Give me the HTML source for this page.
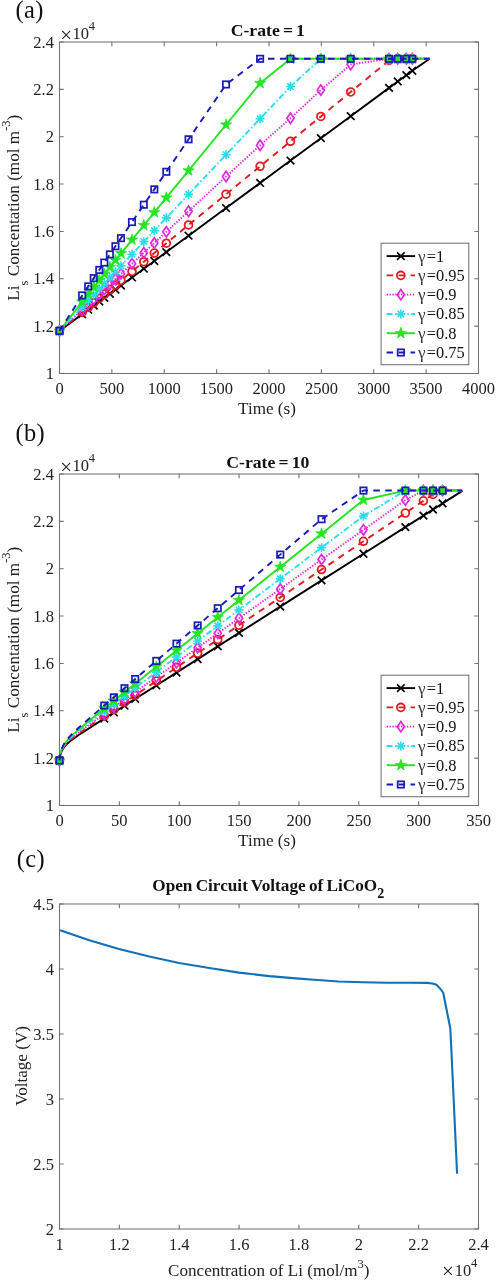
<!DOCTYPE html>
<html><head><meta charset="utf-8"><title>Figure</title>
<style>
html,body{margin:0;padding:0;background:#fff;}
body{width:496px;height:1280px;overflow:hidden;}
svg{display:block;}
text{font-family:"Liberation Serif",serif;fill:#222222;}
.t{font-size:16.5px;}
.l{font-size:16.4px;fill:#111;}
.ti{font-size:17px;font-weight:bold;fill:#111;}
.p{font-size:24.5px;fill:#111;letter-spacing:0.3px;}
.s{font-size:12.5px;}
.gm{font-size:17.2px;fill:#3a3a3a;}
.x{font-size:21px;}
.lb{font-size:17.1px;}
</style></head><body>
<svg width="496" height="1280" viewBox="0 0 496 1280">
<rect width="496" height="1280" fill="#fff"/>
<g>
<rect x="59.5" y="42.0" width="419.0" height="331.5" fill="#fff" stroke="#727272" stroke-width="1.05"/>
<path d="M59.50 373.5v-4.2M59.50 42.0v4.2M111.88 373.5v-4.2M111.88 42.0v4.2M164.25 373.5v-4.2M164.25 42.0v4.2M216.62 373.5v-4.2M216.62 42.0v4.2M269.00 373.5v-4.2M269.00 42.0v4.2M321.38 373.5v-4.2M321.38 42.0v4.2M373.75 373.5v-4.2M373.75 42.0v4.2M426.12 373.5v-4.2M426.12 42.0v4.2M478.50 373.5v-4.2M478.50 42.0v4.2M59.5 373.50h4.2M478.5 373.50h-4.2M59.5 326.14h4.2M478.5 326.14h-4.2M59.5 278.79h4.2M478.5 278.79h-4.2M59.5 231.43h4.2M478.5 231.43h-4.2M59.5 184.07h4.2M478.5 184.07h-4.2M59.5 136.71h4.2M478.5 136.71h-4.2M59.5 89.36h4.2M478.5 89.36h-4.2M59.5 42.00h4.2M478.5 42.00h-4.2" stroke="#727272" stroke-width="1.1" fill="none"/>
<text x="59.50" y="394.30" text-anchor="middle" class="t">0</text>
<text x="111.88" y="394.30" text-anchor="middle" class="t">500</text>
<text x="164.25" y="394.30" text-anchor="middle" class="t">1000</text>
<text x="216.62" y="394.30" text-anchor="middle" class="t">1500</text>
<text x="269.00" y="394.30" text-anchor="middle" class="t">2000</text>
<text x="321.38" y="394.30" text-anchor="middle" class="t">2500</text>
<text x="373.75" y="394.30" text-anchor="middle" class="t">3000</text>
<text x="426.12" y="394.30" text-anchor="middle" class="t">3500</text>
<text x="478.50" y="394.30" text-anchor="middle" class="t">4000</text>
<text x="53.90" y="379.20" text-anchor="end" class="t">1</text>
<text x="53.90" y="331.84" text-anchor="end" class="t">1.2</text>
<text x="53.90" y="284.49" text-anchor="end" class="t">1.4</text>
<text x="53.90" y="237.13" text-anchor="end" class="t">1.6</text>
<text x="53.90" y="189.77" text-anchor="end" class="t">1.8</text>
<text x="53.90" y="142.41" text-anchor="end" class="t">2</text>
<text x="53.90" y="95.06" text-anchor="end" class="t">2.2</text>
<text x="53.90" y="47.70" text-anchor="end" class="t">2.4</text>
<clipPath id="cpa"><rect x="53.5" y="36.0" width="431.0" height="343.5"/></clipPath>
<g clip-path="url(#cpa)">
<path d="M59.50 330.88L82.13 314.19L88.20 309.71L93.75 305.62L99.31 301.53L104.33 297.82L109.88 293.73L115.44 289.63L120.99 285.54L131.99 277.43L143.82 268.70L154.30 260.98L166.34 252.09L188.55 235.72L226.05 208.07L260.10 182.96L290.47 160.57L320.85 138.17L350.70 116.15L389.04 87.88L397.74 81.47L406.33 75.14L412.30 70.74L429.69 58.81" stroke="#000000" stroke-width="1.9" fill="none" stroke-linejoin="round"/>
<path d="M55.70 327.08L63.30 334.68M55.70 334.68L63.30 327.08" stroke="#000000" stroke-width="1.7" fill="none"/>
<path d="M78.33 310.39L85.93 317.99M78.33 317.99L85.93 310.39" stroke="#000000" stroke-width="1.7" fill="none"/>
<path d="M84.40 305.91L92.00 313.51M84.40 313.51L92.00 305.91" stroke="#000000" stroke-width="1.7" fill="none"/>
<path d="M89.95 301.82L97.55 309.42M89.95 309.42L97.55 301.82" stroke="#000000" stroke-width="1.7" fill="none"/>
<path d="M95.51 297.73L103.11 305.33M95.51 305.33L103.11 297.73" stroke="#000000" stroke-width="1.7" fill="none"/>
<path d="M100.53 294.02L108.13 301.62M100.53 301.62L108.13 294.02" stroke="#000000" stroke-width="1.7" fill="none"/>
<path d="M106.08 289.93L113.68 297.53M106.08 297.53L113.68 289.93" stroke="#000000" stroke-width="1.7" fill="none"/>
<path d="M111.64 285.83L119.24 293.43M111.64 293.43L119.24 285.83" stroke="#000000" stroke-width="1.7" fill="none"/>
<path d="M117.19 281.74L124.79 289.34M117.19 289.34L124.79 281.74" stroke="#000000" stroke-width="1.7" fill="none"/>
<path d="M128.19 273.63L135.79 281.23M128.19 281.23L135.79 273.63" stroke="#000000" stroke-width="1.7" fill="none"/>
<path d="M140.02 264.90L147.62 272.50M140.02 272.50L147.62 264.90" stroke="#000000" stroke-width="1.7" fill="none"/>
<path d="M150.50 257.18L158.10 264.78M150.50 264.78L158.10 257.18" stroke="#000000" stroke-width="1.7" fill="none"/>
<path d="M162.54 248.29L170.15 255.89M162.54 255.89L170.15 248.29" stroke="#000000" stroke-width="1.7" fill="none"/>
<path d="M184.75 231.92L192.35 239.52M184.75 239.52L192.35 231.92" stroke="#000000" stroke-width="1.7" fill="none"/>
<path d="M222.25 204.27L229.85 211.87M222.25 211.87L229.85 204.27" stroke="#000000" stroke-width="1.7" fill="none"/>
<path d="M256.30 179.16L263.90 186.76M256.30 186.76L263.90 179.16" stroke="#000000" stroke-width="1.7" fill="none"/>
<path d="M286.67 156.77L294.27 164.37M286.67 164.37L294.27 156.77" stroke="#000000" stroke-width="1.7" fill="none"/>
<path d="M317.05 134.37L324.65 141.97M317.05 141.97L324.65 134.37" stroke="#000000" stroke-width="1.7" fill="none"/>
<path d="M346.90 112.35L354.50 119.95M346.90 119.95L354.50 112.35" stroke="#000000" stroke-width="1.7" fill="none"/>
<path d="M385.24 84.08L392.84 91.68M385.24 91.68L392.84 84.08" stroke="#000000" stroke-width="1.7" fill="none"/>
<path d="M393.94 77.67L401.54 85.27M393.94 85.27L401.54 77.67" stroke="#000000" stroke-width="1.7" fill="none"/>
<path d="M402.53 71.34L410.13 78.94M402.53 78.94L410.13 71.34" stroke="#000000" stroke-width="1.7" fill="none"/>
<path d="M408.50 66.94L416.10 74.54M408.50 74.54L416.10 66.94" stroke="#000000" stroke-width="1.7" fill="none"/>
<path d="M59.50 330.88L82.13 312.31L88.20 307.33L93.75 302.77L99.31 298.22L104.33 294.09L109.88 289.54L115.44 284.98L120.99 280.42L131.99 271.40L143.82 261.69L154.30 253.09L166.34 243.21L188.55 224.98L226.05 194.21L260.10 166.28L290.47 141.35L320.85 116.43L350.70 91.93L389.04 60.47L397.74 58.81L406.33 58.81L412.30 58.81L429.69 58.81" stroke="#e01a1e" stroke-width="1.9" stroke-dasharray="6.5 5.5" fill="none" stroke-linejoin="round"/>
<circle cx="59.50" cy="330.88" r="3.90" stroke="#e01a1e" stroke-width="1.8" fill="none"/>
<circle cx="82.13" cy="312.31" r="3.90" stroke="#e01a1e" stroke-width="1.8" fill="none"/>
<circle cx="88.20" cy="307.33" r="3.90" stroke="#e01a1e" stroke-width="1.8" fill="none"/>
<circle cx="93.75" cy="302.77" r="3.90" stroke="#e01a1e" stroke-width="1.8" fill="none"/>
<circle cx="99.31" cy="298.22" r="3.90" stroke="#e01a1e" stroke-width="1.8" fill="none"/>
<circle cx="104.33" cy="294.09" r="3.90" stroke="#e01a1e" stroke-width="1.8" fill="none"/>
<circle cx="109.88" cy="289.54" r="3.90" stroke="#e01a1e" stroke-width="1.8" fill="none"/>
<circle cx="115.44" cy="284.98" r="3.90" stroke="#e01a1e" stroke-width="1.8" fill="none"/>
<circle cx="120.99" cy="280.42" r="3.90" stroke="#e01a1e" stroke-width="1.8" fill="none"/>
<circle cx="131.99" cy="271.40" r="3.90" stroke="#e01a1e" stroke-width="1.8" fill="none"/>
<circle cx="143.82" cy="261.69" r="3.90" stroke="#e01a1e" stroke-width="1.8" fill="none"/>
<circle cx="154.30" cy="253.09" r="3.90" stroke="#e01a1e" stroke-width="1.8" fill="none"/>
<circle cx="166.34" cy="243.21" r="3.90" stroke="#e01a1e" stroke-width="1.8" fill="none"/>
<circle cx="188.55" cy="224.98" r="3.90" stroke="#e01a1e" stroke-width="1.8" fill="none"/>
<circle cx="226.05" cy="194.21" r="3.90" stroke="#e01a1e" stroke-width="1.8" fill="none"/>
<circle cx="260.10" cy="166.28" r="3.90" stroke="#e01a1e" stroke-width="1.8" fill="none"/>
<circle cx="290.47" cy="141.35" r="3.90" stroke="#e01a1e" stroke-width="1.8" fill="none"/>
<circle cx="320.85" cy="116.43" r="3.90" stroke="#e01a1e" stroke-width="1.8" fill="none"/>
<circle cx="350.70" cy="91.93" r="3.90" stroke="#e01a1e" stroke-width="1.8" fill="none"/>
<circle cx="389.04" cy="60.47" r="3.90" stroke="#e01a1e" stroke-width="1.8" fill="none"/>
<circle cx="397.74" cy="58.81" r="3.90" stroke="#e01a1e" stroke-width="1.8" fill="none"/>
<circle cx="406.33" cy="58.81" r="3.90" stroke="#e01a1e" stroke-width="1.8" fill="none"/>
<circle cx="412.30" cy="58.81" r="3.90" stroke="#e01a1e" stroke-width="1.8" fill="none"/>
<path d="M59.50 330.88L82.13 309.91L88.20 304.28L93.75 299.13L99.31 293.99L104.33 289.33L109.88 284.18L115.44 279.04L120.99 273.89L131.99 263.70L143.82 252.73L154.30 243.02L166.34 231.85L188.55 211.27L226.05 176.52L260.10 145.24L290.47 118.25L320.85 90.07L350.70 64.49L389.04 58.81L397.74 58.81L406.33 58.81L412.30 58.81L429.69 58.81" stroke="#e426e4" stroke-width="1.9" stroke-dasharray="1.4 1.5" fill="none" stroke-linejoin="round"/>
<path d="M59.50 325.68L63.10 330.88L59.50 336.08L55.90 330.88Z" stroke="#e426e4" stroke-width="1.7" fill="none"/>
<path d="M82.13 304.71L85.73 309.91L82.13 315.11L78.53 309.91Z" stroke="#e426e4" stroke-width="1.7" fill="none"/>
<path d="M88.20 299.08L91.80 304.28L88.20 309.48L84.60 304.28Z" stroke="#e426e4" stroke-width="1.7" fill="none"/>
<path d="M93.75 293.93L97.35 299.13L93.75 304.33L90.15 299.13Z" stroke="#e426e4" stroke-width="1.7" fill="none"/>
<path d="M99.31 288.79L102.91 293.99L99.31 299.19L95.71 293.99Z" stroke="#e426e4" stroke-width="1.7" fill="none"/>
<path d="M104.33 284.13L107.93 289.33L104.33 294.53L100.73 289.33Z" stroke="#e426e4" stroke-width="1.7" fill="none"/>
<path d="M109.88 278.98L113.48 284.18L109.88 289.38L106.28 284.18Z" stroke="#e426e4" stroke-width="1.7" fill="none"/>
<path d="M115.44 273.84L119.04 279.04L115.44 284.24L111.84 279.04Z" stroke="#e426e4" stroke-width="1.7" fill="none"/>
<path d="M120.99 268.69L124.59 273.89L120.99 279.09L117.39 273.89Z" stroke="#e426e4" stroke-width="1.7" fill="none"/>
<path d="M131.99 258.50L135.59 263.70L131.99 268.90L128.39 263.70Z" stroke="#e426e4" stroke-width="1.7" fill="none"/>
<path d="M143.82 247.53L147.42 252.73L143.82 257.93L140.22 252.73Z" stroke="#e426e4" stroke-width="1.7" fill="none"/>
<path d="M154.30 237.82L157.90 243.02L154.30 248.22L150.70 243.02Z" stroke="#e426e4" stroke-width="1.7" fill="none"/>
<path d="M166.34 226.65L169.94 231.85L166.34 237.05L162.75 231.85Z" stroke="#e426e4" stroke-width="1.7" fill="none"/>
<path d="M188.55 206.07L192.15 211.27L188.55 216.47L184.95 211.27Z" stroke="#e426e4" stroke-width="1.7" fill="none"/>
<path d="M226.05 171.32L229.65 176.52L226.05 181.72L222.45 176.52Z" stroke="#e426e4" stroke-width="1.7" fill="none"/>
<path d="M260.10 140.04L263.70 145.24L260.10 150.44L256.50 145.24Z" stroke="#e426e4" stroke-width="1.7" fill="none"/>
<path d="M290.47 113.05L294.07 118.25L290.47 123.45L286.87 118.25Z" stroke="#e426e4" stroke-width="1.7" fill="none"/>
<path d="M320.85 84.87L324.45 90.07L320.85 95.27L317.25 90.07Z" stroke="#e426e4" stroke-width="1.7" fill="none"/>
<path d="M350.70 59.29L354.31 64.49L350.70 69.69L347.10 64.49Z" stroke="#e426e4" stroke-width="1.7" fill="none"/>
<path d="M389.04 53.61L392.64 58.81L389.04 64.01L385.44 58.81Z" stroke="#e426e4" stroke-width="1.7" fill="none"/>
<path d="M397.74 53.61L401.34 58.81L397.74 64.01L394.14 58.81Z" stroke="#e426e4" stroke-width="1.7" fill="none"/>
<path d="M406.33 53.61L409.93 58.81L406.33 64.01L402.73 58.81Z" stroke="#e426e4" stroke-width="1.7" fill="none"/>
<path d="M412.30 53.61L415.90 58.81L412.30 64.01L408.70 58.81Z" stroke="#e426e4" stroke-width="1.7" fill="none"/>
<path d="M59.50 330.88L82.13 306.94L88.20 300.52L93.75 294.64L99.31 288.77L104.33 283.45L109.88 277.58L115.44 271.70L120.99 265.83L131.99 254.19L143.82 241.67L154.30 230.59L166.34 217.85L188.55 194.35L226.05 154.68L260.10 118.67L290.47 86.53L320.85 58.81L350.70 58.81L389.04 58.81L397.74 58.81L406.33 58.81L412.30 58.81L429.69 58.81" stroke="#2adcec" stroke-width="1.9" stroke-dasharray="6 2.4 1.5 2.4" fill="none" stroke-linejoin="round"/>
<path d="M55.00 330.88L64.00 330.88M59.50 326.38L59.50 335.38M56.32 327.70L62.68 334.06M56.32 334.06L62.68 327.70" stroke="#2adcec" stroke-width="1.6" fill="none"/>
<path d="M77.63 306.94L86.63 306.94M82.13 302.44L82.13 311.44M78.94 303.76L85.31 310.12M78.94 310.12L85.31 303.76" stroke="#2adcec" stroke-width="1.6" fill="none"/>
<path d="M83.70 300.52L92.70 300.52M88.20 296.02L88.20 305.02M85.02 297.33L91.38 303.70M85.02 303.70L91.38 297.33" stroke="#2adcec" stroke-width="1.6" fill="none"/>
<path d="M89.25 294.64L98.25 294.64M93.75 290.14L93.75 299.14M90.57 291.46L96.94 297.82M90.57 297.82L96.94 291.46" stroke="#2adcec" stroke-width="1.6" fill="none"/>
<path d="M94.81 288.77L103.81 288.77M99.31 284.27L99.31 293.27M96.12 285.59L102.49 291.95M96.12 291.95L102.49 285.59" stroke="#2adcec" stroke-width="1.6" fill="none"/>
<path d="M99.83 283.45L108.83 283.45M104.33 278.95L104.33 287.95M101.15 280.27L107.51 286.63M101.15 286.63L107.51 280.27" stroke="#2adcec" stroke-width="1.6" fill="none"/>
<path d="M105.38 277.58L114.38 277.58M109.88 273.08L109.88 282.08M106.70 274.39L113.07 280.76M106.70 280.76L113.07 274.39" stroke="#2adcec" stroke-width="1.6" fill="none"/>
<path d="M110.94 271.70L119.94 271.70M115.44 267.20L115.44 276.20M112.25 268.52L118.62 274.88M112.25 274.88L118.62 268.52" stroke="#2adcec" stroke-width="1.6" fill="none"/>
<path d="M116.49 265.83L125.49 265.83M120.99 261.33L120.99 270.33M117.81 262.65L124.17 269.01M117.81 269.01L124.17 262.65" stroke="#2adcec" stroke-width="1.6" fill="none"/>
<path d="M127.49 254.19L136.49 254.19M131.99 249.69L131.99 258.69M128.81 251.01L135.17 257.38M128.81 257.38L135.17 251.01" stroke="#2adcec" stroke-width="1.6" fill="none"/>
<path d="M139.32 241.67L148.32 241.67M143.82 237.17L143.82 246.17M140.64 238.49L147.01 244.85M140.64 244.85L147.01 238.49" stroke="#2adcec" stroke-width="1.6" fill="none"/>
<path d="M149.80 230.59L158.80 230.59M154.30 226.09L154.30 235.09M151.12 227.41L157.48 233.77M151.12 233.77L157.48 227.41" stroke="#2adcec" stroke-width="1.6" fill="none"/>
<path d="M161.84 217.85L170.84 217.85M166.34 213.35L166.34 222.35M163.16 214.66L169.53 221.03M163.16 221.03L169.53 214.66" stroke="#2adcec" stroke-width="1.6" fill="none"/>
<path d="M184.05 194.35L193.05 194.35M188.55 189.85L188.55 198.85M185.37 191.17L191.73 197.54M185.37 197.54L191.73 191.17" stroke="#2adcec" stroke-width="1.6" fill="none"/>
<path d="M221.55 154.68L230.55 154.68M226.05 150.18L226.05 159.18M222.87 151.50L229.23 157.86M222.87 157.86L229.23 151.50" stroke="#2adcec" stroke-width="1.6" fill="none"/>
<path d="M255.60 118.67L264.60 118.67M260.10 114.17L260.10 123.17M256.91 115.48L263.28 121.85M256.91 121.85L263.28 115.48" stroke="#2adcec" stroke-width="1.6" fill="none"/>
<path d="M285.97 86.53L294.97 86.53M290.47 82.03L290.47 91.03M287.29 83.35L293.66 89.71M287.29 89.71L293.66 83.35" stroke="#2adcec" stroke-width="1.6" fill="none"/>
<path d="M316.35 58.81L325.35 58.81M320.85 54.31L320.85 63.31M317.67 55.63L324.03 61.99M317.67 61.99L324.03 55.63" stroke="#2adcec" stroke-width="1.6" fill="none"/>
<path d="M346.20 58.81L355.20 58.81M350.70 54.31L350.70 63.31M347.52 55.63L353.89 61.99M347.52 61.99L353.89 55.63" stroke="#2adcec" stroke-width="1.6" fill="none"/>
<path d="M384.54 58.81L393.54 58.81M389.04 54.31L389.04 63.31M385.86 55.63L392.23 61.99M385.86 61.99L392.23 55.63" stroke="#2adcec" stroke-width="1.6" fill="none"/>
<path d="M393.24 58.81L402.24 58.81M397.74 54.31L397.74 63.31M394.56 55.63L400.92 61.99M394.56 61.99L400.92 55.63" stroke="#2adcec" stroke-width="1.6" fill="none"/>
<path d="M401.83 58.81L410.83 58.81M406.33 54.31L406.33 63.31M403.15 55.63L409.51 61.99M403.15 61.99L409.51 55.63" stroke="#2adcec" stroke-width="1.6" fill="none"/>
<path d="M407.80 58.81L416.80 58.81M412.30 54.31L412.30 63.31M409.12 55.63L415.48 61.99M409.12 61.99L415.48 55.63" stroke="#2adcec" stroke-width="1.6" fill="none"/>
<path d="M59.50 330.88L82.13 301.80L88.20 294.14L93.75 287.18L99.31 280.25L104.33 273.99L109.88 267.11L115.44 260.24L120.99 253.38L131.99 239.84L143.82 225.30L154.30 212.46L166.34 197.71L188.55 170.56L226.05 124.75L260.10 83.18L290.47 58.81L320.85 58.81L350.70 58.81L389.04 58.81L397.74 58.81L406.33 58.81L412.30 58.81L429.69 58.81" stroke="#24e424" stroke-width="1.9" fill="none" stroke-linejoin="round"/>
<polygon points="59.50,324.98 60.89,328.97 65.11,329.06 61.74,331.61 62.97,335.65 59.50,333.24 56.03,335.65 57.26,331.61 53.89,329.06 58.11,328.97" stroke="#24e424" stroke-width="0.7" fill="#24e424"/>
<polygon points="82.13,295.90 83.51,299.89 87.74,299.98 84.37,302.53 85.59,306.57 82.13,304.16 78.66,306.57 79.88,302.53 76.51,299.98 80.74,299.89" stroke="#24e424" stroke-width="0.7" fill="#24e424"/>
<polygon points="88.20,288.24 89.59,292.23 93.81,292.32 90.45,294.87 91.67,298.92 88.20,296.50 84.73,298.92 85.96,294.87 82.59,292.32 86.81,292.23" stroke="#24e424" stroke-width="0.7" fill="#24e424"/>
<polygon points="93.75,281.28 95.14,285.27 99.36,285.36 96.00,287.91 97.22,291.95 93.75,289.54 90.29,291.95 91.51,287.91 88.14,285.36 92.37,285.27" stroke="#24e424" stroke-width="0.7" fill="#24e424"/>
<polygon points="99.31,274.35 100.69,278.34 104.92,278.43 101.55,280.98 102.77,285.02 99.31,282.61 95.84,285.02 97.06,280.98 93.69,278.43 97.92,278.34" stroke="#24e424" stroke-width="0.7" fill="#24e424"/>
<polygon points="104.33,268.09 105.72,272.08 109.94,272.17 106.58,274.72 107.80,278.77 104.33,276.35 100.87,278.77 102.09,274.72 98.72,272.17 102.95,272.08" stroke="#24e424" stroke-width="0.7" fill="#24e424"/>
<polygon points="109.88,261.21 111.27,265.20 115.50,265.28 112.13,267.84 113.35,271.88 109.88,269.47 106.42,271.88 107.64,267.84 104.27,265.28 108.50,265.20" stroke="#24e424" stroke-width="0.7" fill="#24e424"/>
<polygon points="115.44,254.34 116.82,258.33 121.05,258.41 117.68,260.97 118.90,265.01 115.44,262.60 111.97,265.01 113.19,260.97 109.83,258.41 114.05,258.33" stroke="#24e424" stroke-width="0.7" fill="#24e424"/>
<polygon points="120.99,247.48 122.38,251.47 126.60,251.56 123.23,254.11 124.46,258.16 120.99,255.74 117.52,258.16 118.74,254.11 115.38,251.56 119.60,251.47" stroke="#24e424" stroke-width="0.7" fill="#24e424"/>
<polygon points="131.99,233.94 133.37,237.93 137.60,238.01 134.23,240.57 135.45,244.61 131.99,242.20 128.52,244.61 129.74,240.57 126.38,238.01 130.60,237.93" stroke="#24e424" stroke-width="0.7" fill="#24e424"/>
<polygon points="143.82,219.40 145.21,223.39 149.43,223.48 146.07,226.03 147.29,230.07 143.82,227.66 140.36,230.07 141.58,226.03 138.21,223.48 142.44,223.39" stroke="#24e424" stroke-width="0.7" fill="#24e424"/>
<polygon points="154.30,206.56 155.69,210.55 159.91,210.64 156.54,213.19 157.77,217.23 154.30,214.82 150.83,217.23 152.05,213.19 148.69,210.64 152.91,210.55" stroke="#24e424" stroke-width="0.7" fill="#24e424"/>
<polygon points="166.34,191.81 167.73,195.80 171.96,195.89 168.59,198.44 169.81,202.48 166.34,200.07 162.88,202.48 164.10,198.44 160.73,195.89 164.96,195.80" stroke="#24e424" stroke-width="0.7" fill="#24e424"/>
<polygon points="188.55,164.66 189.94,168.65 194.16,168.73 190.80,171.28 192.02,175.33 188.55,172.92 185.08,175.33 186.31,171.28 182.94,168.73 187.16,168.65" stroke="#24e424" stroke-width="0.7" fill="#24e424"/>
<polygon points="226.05,118.85 227.44,122.84 231.66,122.92 228.30,125.48 229.52,129.52 226.05,127.11 222.58,129.52 223.81,125.48 220.44,122.92 224.67,122.84" stroke="#24e424" stroke-width="0.7" fill="#24e424"/>
<polygon points="260.10,77.28 261.48,81.27 265.71,81.36 262.34,83.91 263.56,87.96 260.10,85.54 256.63,87.96 257.85,83.91 254.49,81.36 258.71,81.27" stroke="#24e424" stroke-width="0.7" fill="#24e424"/>
<polygon points="290.47,52.91 291.86,56.90 296.08,56.99 292.72,59.54 293.94,63.58 290.47,61.17 287.01,63.58 288.23,59.54 284.86,56.99 289.09,56.90" stroke="#24e424" stroke-width="0.7" fill="#24e424"/>
<polygon points="320.85,52.91 322.24,56.90 326.46,56.99 323.10,59.54 324.32,63.58 320.85,61.17 317.38,63.58 318.61,59.54 315.24,56.99 319.46,56.90" stroke="#24e424" stroke-width="0.7" fill="#24e424"/>
<polygon points="350.70,52.91 352.09,56.90 356.32,56.99 352.95,59.54 354.17,63.58 350.70,61.17 347.24,63.58 348.46,59.54 345.09,56.99 349.32,56.90" stroke="#24e424" stroke-width="0.7" fill="#24e424"/>
<polygon points="389.04,52.91 390.43,56.90 394.65,56.99 391.29,59.54 392.51,63.58 389.04,61.17 385.58,63.58 386.80,59.54 383.43,56.99 387.66,56.90" stroke="#24e424" stroke-width="0.7" fill="#24e424"/>
<polygon points="397.74,52.91 399.12,56.90 403.35,56.99 399.98,59.54 401.21,63.58 397.74,61.17 394.27,63.58 395.49,59.54 392.13,56.99 396.35,56.90" stroke="#24e424" stroke-width="0.7" fill="#24e424"/>
<polygon points="406.33,52.91 407.71,56.90 411.94,56.99 408.57,59.54 409.80,63.58 406.33,61.17 402.86,63.58 404.08,59.54 400.72,56.99 404.94,56.90" stroke="#24e424" stroke-width="0.7" fill="#24e424"/>
<polygon points="412.30,52.91 413.69,56.90 417.91,56.99 414.54,59.54 415.77,63.58 412.30,61.17 408.83,63.58 410.05,59.54 406.69,56.99 410.91,56.90" stroke="#24e424" stroke-width="0.7" fill="#24e424"/>
<path d="M59.50 330.88L82.13 295.42L88.20 286.35L93.75 278.13L99.31 269.94L104.33 262.55L109.88 254.40L115.44 246.26L120.99 238.13L131.99 222.03L143.82 204.71L154.30 189.39L166.34 171.77L188.55 139.29L226.05 84.45L260.10 58.81L290.47 58.81L320.85 58.81L350.70 58.81L389.04 58.81L397.74 58.81L406.33 58.81L412.30 58.81L429.69 58.81" stroke="#1a1ab8" stroke-width="1.9" stroke-dasharray="6.5 5.5" fill="none" stroke-linejoin="round"/>
<rect x="56.30" y="327.68" width="6.40" height="6.40" stroke="#1a1ab8" stroke-width="1.7" fill="none"/>
<rect x="78.93" y="292.22" width="6.40" height="6.40" stroke="#1a1ab8" stroke-width="1.7" fill="none"/>
<rect x="85.00" y="283.15" width="6.40" height="6.40" stroke="#1a1ab8" stroke-width="1.7" fill="none"/>
<rect x="90.55" y="274.93" width="6.40" height="6.40" stroke="#1a1ab8" stroke-width="1.7" fill="none"/>
<rect x="96.11" y="266.74" width="6.40" height="6.40" stroke="#1a1ab8" stroke-width="1.7" fill="none"/>
<rect x="101.13" y="259.35" width="6.40" height="6.40" stroke="#1a1ab8" stroke-width="1.7" fill="none"/>
<rect x="106.68" y="251.20" width="6.40" height="6.40" stroke="#1a1ab8" stroke-width="1.7" fill="none"/>
<rect x="112.24" y="243.06" width="6.40" height="6.40" stroke="#1a1ab8" stroke-width="1.7" fill="none"/>
<rect x="117.79" y="234.93" width="6.40" height="6.40" stroke="#1a1ab8" stroke-width="1.7" fill="none"/>
<rect x="128.79" y="218.83" width="6.40" height="6.40" stroke="#1a1ab8" stroke-width="1.7" fill="none"/>
<rect x="140.62" y="201.51" width="6.40" height="6.40" stroke="#1a1ab8" stroke-width="1.7" fill="none"/>
<rect x="151.10" y="186.19" width="6.40" height="6.40" stroke="#1a1ab8" stroke-width="1.7" fill="none"/>
<rect x="163.15" y="168.57" width="6.40" height="6.40" stroke="#1a1ab8" stroke-width="1.7" fill="none"/>
<rect x="185.35" y="136.09" width="6.40" height="6.40" stroke="#1a1ab8" stroke-width="1.7" fill="none"/>
<rect x="222.85" y="81.25" width="6.40" height="6.40" stroke="#1a1ab8" stroke-width="1.7" fill="none"/>
<rect x="256.90" y="55.61" width="6.40" height="6.40" stroke="#1a1ab8" stroke-width="1.7" fill="none"/>
<rect x="287.27" y="55.61" width="6.40" height="6.40" stroke="#1a1ab8" stroke-width="1.7" fill="none"/>
<rect x="317.65" y="55.61" width="6.40" height="6.40" stroke="#1a1ab8" stroke-width="1.7" fill="none"/>
<rect x="347.50" y="55.61" width="6.40" height="6.40" stroke="#1a1ab8" stroke-width="1.7" fill="none"/>
<rect x="385.84" y="55.61" width="6.40" height="6.40" stroke="#1a1ab8" stroke-width="1.7" fill="none"/>
<rect x="394.54" y="55.61" width="6.40" height="6.40" stroke="#1a1ab8" stroke-width="1.7" fill="none"/>
<rect x="403.13" y="55.61" width="6.40" height="6.40" stroke="#1a1ab8" stroke-width="1.7" fill="none"/>
<rect x="409.10" y="55.61" width="6.40" height="6.40" stroke="#1a1ab8" stroke-width="1.7" fill="none"/>
</g>
<rect x="381.1" y="243.2" width="87.7" height="121.5" fill="#fff" stroke="#727272" stroke-width="1.05"/>
<path d="M386.60 256.10H415.10" stroke="#000000" stroke-width="1.9" fill="none"/>
<path d="M397.05 252.30L404.65 259.90M397.05 259.90L404.65 252.30" stroke="#000000" stroke-width="1.7" fill="none"/>
<text x="417.90" y="261.50" class="l"><tspan class="gm" dy="0.4">γ</tspan><tspan dx="1.2" dy="-0.4">=1</tspan></text>
<path d="M386.60 275.38H415.10" stroke="#e01a1e" stroke-width="1.9" stroke-dasharray="6.5 5.5" fill="none"/>
<circle cx="400.85" cy="275.38" r="3.90" stroke="#e01a1e" stroke-width="1.8" fill="none"/>
<text x="417.90" y="280.78" class="l"><tspan class="gm" dy="0.4">γ</tspan><tspan dx="1.2" dy="-0.4">=0.95</tspan></text>
<path d="M386.60 294.66H415.10" stroke="#e426e4" stroke-width="1.9" stroke-dasharray="1.4 1.5" fill="none"/>
<path d="M400.85 289.46L404.45 294.66L400.85 299.86L397.25 294.66Z" stroke="#e426e4" stroke-width="1.7" fill="none"/>
<text x="417.90" y="300.06" class="l"><tspan class="gm" dy="0.4">γ</tspan><tspan dx="1.2" dy="-0.4">=0.9</tspan></text>
<path d="M386.60 313.94H415.10" stroke="#2adcec" stroke-width="1.9" stroke-dasharray="6 2.4 1.5 2.4" fill="none"/>
<path d="M396.35 313.94L405.35 313.94M400.85 309.44L400.85 318.44M397.67 310.76L404.03 317.12M397.67 317.12L404.03 310.76" stroke="#2adcec" stroke-width="1.6" fill="none"/>
<text x="417.90" y="319.34" class="l"><tspan class="gm" dy="0.4">γ</tspan><tspan dx="1.2" dy="-0.4">=0.85</tspan></text>
<path d="M386.60 333.22H415.10" stroke="#24e424" stroke-width="1.9" fill="none"/>
<polygon points="400.85,327.32 402.24,331.31 406.46,331.40 403.09,333.95 404.32,337.99 400.85,335.58 397.38,337.99 398.61,333.95 395.24,331.40 399.46,331.31" stroke="#24e424" stroke-width="0.7" fill="#24e424"/>
<text x="417.90" y="338.62" class="l"><tspan class="gm" dy="0.4">γ</tspan><tspan dx="1.2" dy="-0.4">=0.8</tspan></text>
<path d="M386.60 352.50H415.10" stroke="#1a1ab8" stroke-width="1.9" stroke-dasharray="6.5 5.5" fill="none"/>
<rect x="397.65" y="349.30" width="6.40" height="6.40" stroke="#1a1ab8" stroke-width="1.7" fill="none"/>
<text x="417.90" y="357.90" class="l"><tspan class="gm" dy="0.4">γ</tspan><tspan dx="1.2" dy="-0.4">=0.75</tspan></text>
<text x="15.6" y="18.0" class="p">(a)</text>
<text x="267.8" y="35.80" text-anchor="middle" class="ti" style="font-size:17.7px;word-spacing:-1.3px">C-rate = 1</text>
<text x="60.2" y="39.00" class="t"><tspan class="x" dy="2.6">×</tspan><tspan x="72.4" dy="-2.6">10</tspan><tspan class="s" dy="-9.4" dx="-0.2">4</tspan></text>
<text x="267.0" y="414.20" text-anchor="middle" class="lb">Time (s)</text>
<text transform="translate(19.3 207.75) rotate(-90)" text-anchor="middle" class="lb">Li<tspan class="s" dy="8.3">s</tspan><tspan dy="-8.3"> Concentation (mol m</tspan><tspan class="s" dy="-9.4">-3</tspan><tspan dy="9.4">)</tspan></text>
</g>
<g>
<rect x="59.5" y="474.0" width="419.0" height="331.5" fill="#fff" stroke="#727272" stroke-width="1.05"/>
<path d="M59.50 805.5v-4.2M59.50 474.0v4.2M119.36 805.5v-4.2M119.36 474.0v4.2M179.21 805.5v-4.2M179.21 474.0v4.2M239.07 805.5v-4.2M239.07 474.0v4.2M298.93 805.5v-4.2M298.93 474.0v4.2M358.79 805.5v-4.2M358.79 474.0v4.2M418.64 805.5v-4.2M418.64 474.0v4.2M478.50 805.5v-4.2M478.50 474.0v4.2M59.5 805.50h4.2M478.5 805.50h-4.2M59.5 758.14h4.2M478.5 758.14h-4.2M59.5 710.79h4.2M478.5 710.79h-4.2M59.5 663.43h4.2M478.5 663.43h-4.2M59.5 616.07h4.2M478.5 616.07h-4.2M59.5 568.71h4.2M478.5 568.71h-4.2M59.5 521.36h4.2M478.5 521.36h-4.2M59.5 474.00h4.2M478.5 474.00h-4.2" stroke="#727272" stroke-width="1.1" fill="none"/>
<text x="59.50" y="826.30" text-anchor="middle" class="t">0</text>
<text x="119.36" y="826.30" text-anchor="middle" class="t">50</text>
<text x="179.21" y="826.30" text-anchor="middle" class="t">100</text>
<text x="239.07" y="826.30" text-anchor="middle" class="t">150</text>
<text x="298.93" y="826.30" text-anchor="middle" class="t">200</text>
<text x="358.79" y="826.30" text-anchor="middle" class="t">250</text>
<text x="418.64" y="826.30" text-anchor="middle" class="t">300</text>
<text x="478.50" y="826.30" text-anchor="middle" class="t">350</text>
<text x="53.90" y="811.20" text-anchor="end" class="t">1</text>
<text x="53.90" y="763.84" text-anchor="end" class="t">1.2</text>
<text x="53.90" y="716.49" text-anchor="end" class="t">1.4</text>
<text x="53.90" y="669.13" text-anchor="end" class="t">1.6</text>
<text x="53.90" y="621.77" text-anchor="end" class="t">1.8</text>
<text x="53.90" y="574.41" text-anchor="end" class="t">2</text>
<text x="53.90" y="527.06" text-anchor="end" class="t">2.2</text>
<text x="53.90" y="479.70" text-anchor="end" class="t">2.4</text>
<clipPath id="cpb"><rect x="53.5" y="468.0" width="431.0" height="343.5"/></clipPath>
<g clip-path="url(#cpb)">
<path d="M59.50 760.51L59.98 756.68L60.46 754.65L61.06 752.78L61.89 750.79L63.09 748.63L64.89 746.18L67.28 743.66L70.27 741.09L73.87 738.39L78.65 735.08L84.64 731.13L91.82 726.50L97.81 722.67L104.27 718.55L113.85 712.46L124.50 705.68L135.16 698.90L156.35 685.43L176.46 672.64L197.65 659.16L217.76 646.37L238.95 632.90L280.25 606.64L321.55 580.37L363.45 553.73L405.35 527.08L423.43 515.59L433.01 509.50L442.59 503.41L462.34 490.85" stroke="#000000" stroke-width="1.9" fill="none" stroke-linejoin="round"/>
<path d="M55.70 756.71L63.30 764.31M55.70 764.31L63.30 756.71" stroke="#000000" stroke-width="1.7" fill="none"/>
<path d="M100.47 714.75L108.07 722.35M100.47 722.35L108.07 714.75" stroke="#000000" stroke-width="1.7" fill="none"/>
<path d="M110.05 708.66L117.65 716.26M110.05 716.26L117.65 708.66" stroke="#000000" stroke-width="1.7" fill="none"/>
<path d="M120.70 701.88L128.30 709.48M120.70 709.48L128.30 701.88" stroke="#000000" stroke-width="1.7" fill="none"/>
<path d="M131.36 695.10L138.96 702.70M131.36 702.70L138.96 695.10" stroke="#000000" stroke-width="1.7" fill="none"/>
<path d="M152.55 681.63L160.15 689.23M152.55 689.23L160.15 681.63" stroke="#000000" stroke-width="1.7" fill="none"/>
<path d="M172.66 668.84L180.26 676.44M172.66 676.44L180.26 668.84" stroke="#000000" stroke-width="1.7" fill="none"/>
<path d="M193.85 655.36L201.45 662.96M193.85 662.96L201.45 655.36" stroke="#000000" stroke-width="1.7" fill="none"/>
<path d="M213.96 642.57L221.56 650.17M213.96 650.17L221.56 642.57" stroke="#000000" stroke-width="1.7" fill="none"/>
<path d="M235.15 629.10L242.75 636.70M235.15 636.70L242.75 629.10" stroke="#000000" stroke-width="1.7" fill="none"/>
<path d="M276.45 602.84L284.05 610.44M276.45 610.44L284.05 602.84" stroke="#000000" stroke-width="1.7" fill="none"/>
<path d="M317.75 576.57L325.35 584.17M317.75 584.17L325.35 576.57" stroke="#000000" stroke-width="1.7" fill="none"/>
<path d="M359.65 549.93L367.25 557.53M359.65 557.53L367.25 549.93" stroke="#000000" stroke-width="1.7" fill="none"/>
<path d="M401.55 523.28L409.15 530.88M401.55 530.88L409.15 523.28" stroke="#000000" stroke-width="1.7" fill="none"/>
<path d="M419.63 511.79L427.23 519.39M419.63 519.39L427.23 511.79" stroke="#000000" stroke-width="1.7" fill="none"/>
<path d="M429.21 505.70L436.81 513.30M429.21 513.30L436.81 505.70" stroke="#000000" stroke-width="1.7" fill="none"/>
<path d="M438.79 499.61L446.39 507.21M438.79 507.21L446.39 499.61" stroke="#000000" stroke-width="1.7" fill="none"/>
<path d="M59.50 760.51L59.98 756.47L60.46 754.34L61.06 752.37L61.89 750.26L63.09 747.98L64.89 745.40L67.28 742.74L70.27 740.01L73.87 737.15L78.65 733.64L84.64 729.46L91.82 724.55L97.81 720.49L104.27 716.12L113.85 709.65L124.50 702.46L135.16 695.27L156.35 680.98L176.46 667.42L197.65 653.13L217.76 639.56L238.95 625.27L280.25 597.41L321.55 569.56L363.45 541.29L405.35 513.03L423.43 500.84L433.01 494.38L442.59 490.57L462.34 490.57" stroke="#e01a1e" stroke-width="1.9" stroke-dasharray="6.5 5.5" fill="none" stroke-linejoin="round"/>
<circle cx="59.50" cy="760.51" r="3.90" stroke="#e01a1e" stroke-width="1.8" fill="none"/>
<circle cx="104.27" cy="716.12" r="3.90" stroke="#e01a1e" stroke-width="1.8" fill="none"/>
<circle cx="113.85" cy="709.65" r="3.90" stroke="#e01a1e" stroke-width="1.8" fill="none"/>
<circle cx="124.50" cy="702.46" r="3.90" stroke="#e01a1e" stroke-width="1.8" fill="none"/>
<circle cx="135.16" cy="695.27" r="3.90" stroke="#e01a1e" stroke-width="1.8" fill="none"/>
<circle cx="156.35" cy="680.98" r="3.90" stroke="#e01a1e" stroke-width="1.8" fill="none"/>
<circle cx="176.46" cy="667.42" r="3.90" stroke="#e01a1e" stroke-width="1.8" fill="none"/>
<circle cx="197.65" cy="653.13" r="3.90" stroke="#e01a1e" stroke-width="1.8" fill="none"/>
<circle cx="217.76" cy="639.56" r="3.90" stroke="#e01a1e" stroke-width="1.8" fill="none"/>
<circle cx="238.95" cy="625.27" r="3.90" stroke="#e01a1e" stroke-width="1.8" fill="none"/>
<circle cx="280.25" cy="597.41" r="3.90" stroke="#e01a1e" stroke-width="1.8" fill="none"/>
<circle cx="321.55" cy="569.56" r="3.90" stroke="#e01a1e" stroke-width="1.8" fill="none"/>
<circle cx="363.45" cy="541.29" r="3.90" stroke="#e01a1e" stroke-width="1.8" fill="none"/>
<circle cx="405.35" cy="513.03" r="3.90" stroke="#e01a1e" stroke-width="1.8" fill="none"/>
<circle cx="423.43" cy="500.84" r="3.90" stroke="#e01a1e" stroke-width="1.8" fill="none"/>
<circle cx="433.01" cy="494.38" r="3.90" stroke="#e01a1e" stroke-width="1.8" fill="none"/>
<circle cx="442.59" cy="490.57" r="3.90" stroke="#e01a1e" stroke-width="1.8" fill="none"/>
<path d="M59.50 760.51L59.98 756.33L60.46 754.12L61.06 752.07L61.89 749.89L63.09 747.52L64.89 744.82L67.28 742.04L70.27 739.18L73.87 736.17L78.65 732.48L84.64 728.08L91.82 722.90L97.81 718.63L104.27 714.02L113.85 707.21L124.50 699.63L135.16 692.06L156.35 677.00L176.46 662.71L197.65 647.65L217.76 633.36L238.95 618.30L280.25 588.95L321.55 559.60L363.45 529.82L405.35 500.04L423.43 490.57L433.01 490.57L442.59 490.57L462.34 490.57" stroke="#e426e4" stroke-width="1.9" stroke-dasharray="1.4 1.5" fill="none" stroke-linejoin="round"/>
<path d="M59.50 755.31L63.10 760.51L59.50 765.71L55.90 760.51Z" stroke="#e426e4" stroke-width="1.7" fill="none"/>
<path d="M104.27 708.82L107.87 714.02L104.27 719.22L100.67 714.02Z" stroke="#e426e4" stroke-width="1.7" fill="none"/>
<path d="M113.85 702.01L117.45 707.21L113.85 712.41L110.25 707.21Z" stroke="#e426e4" stroke-width="1.7" fill="none"/>
<path d="M124.50 694.43L128.10 699.63L124.50 704.83L120.90 699.63Z" stroke="#e426e4" stroke-width="1.7" fill="none"/>
<path d="M135.16 686.86L138.76 692.06L135.16 697.26L131.56 692.06Z" stroke="#e426e4" stroke-width="1.7" fill="none"/>
<path d="M156.35 671.80L159.95 677.00L156.35 682.20L152.75 677.00Z" stroke="#e426e4" stroke-width="1.7" fill="none"/>
<path d="M176.46 657.51L180.06 662.71L176.46 667.91L172.86 662.71Z" stroke="#e426e4" stroke-width="1.7" fill="none"/>
<path d="M197.65 642.45L201.25 647.65L197.65 652.85L194.05 647.65Z" stroke="#e426e4" stroke-width="1.7" fill="none"/>
<path d="M217.76 628.16L221.36 633.36L217.76 638.56L214.16 633.36Z" stroke="#e426e4" stroke-width="1.7" fill="none"/>
<path d="M238.95 613.10L242.55 618.30L238.95 623.50L235.35 618.30Z" stroke="#e426e4" stroke-width="1.7" fill="none"/>
<path d="M280.25 583.75L283.85 588.95L280.25 594.15L276.65 588.95Z" stroke="#e426e4" stroke-width="1.7" fill="none"/>
<path d="M321.55 554.40L325.15 559.60L321.55 564.80L317.95 559.60Z" stroke="#e426e4" stroke-width="1.7" fill="none"/>
<path d="M363.45 524.62L367.05 529.82L363.45 535.02L359.85 529.82Z" stroke="#e426e4" stroke-width="1.7" fill="none"/>
<path d="M405.35 494.84L408.95 500.04L405.35 505.24L401.75 500.04Z" stroke="#e426e4" stroke-width="1.7" fill="none"/>
<path d="M423.43 485.37L427.03 490.57L423.43 495.77L419.83 490.57Z" stroke="#e426e4" stroke-width="1.7" fill="none"/>
<path d="M433.01 485.37L436.61 490.57L433.01 495.77L429.41 490.57Z" stroke="#e426e4" stroke-width="1.7" fill="none"/>
<path d="M442.59 485.37L446.19 490.57L442.59 495.77L438.99 490.57Z" stroke="#e426e4" stroke-width="1.7" fill="none"/>
<path d="M59.50 760.51L59.98 756.12L60.46 753.80L61.06 751.65L61.89 749.35L63.09 746.86L64.89 744.02L67.28 741.08L70.27 738.05L73.87 734.87L78.65 730.96L84.64 726.29L91.82 720.81L97.81 716.27L104.27 711.39L113.85 704.17L124.50 696.13L135.16 688.10L156.35 672.14L176.46 656.98L197.65 641.01L217.76 625.85L238.95 609.89L280.25 578.76L321.55 547.64L363.45 516.06L405.35 490.57L423.43 490.57L433.01 490.57L442.59 490.57L462.34 490.57" stroke="#2adcec" stroke-width="1.9" stroke-dasharray="6 2.4 1.5 2.4" fill="none" stroke-linejoin="round"/>
<path d="M55.00 760.51L64.00 760.51M59.50 756.01L59.50 765.01M56.32 757.33L62.68 763.69M56.32 763.69L62.68 757.33" stroke="#2adcec" stroke-width="1.6" fill="none"/>
<path d="M99.77 711.39L108.77 711.39M104.27 706.89L104.27 715.89M101.09 708.21L107.46 714.57M101.09 714.57L107.46 708.21" stroke="#2adcec" stroke-width="1.6" fill="none"/>
<path d="M109.35 704.17L118.35 704.17M113.85 699.67L113.85 708.67M110.67 700.98L117.03 707.35M110.67 707.35L117.03 700.98" stroke="#2adcec" stroke-width="1.6" fill="none"/>
<path d="M120.00 696.13L129.00 696.13M124.50 691.63L124.50 700.63M121.32 692.95L127.69 699.32M121.32 699.32L127.69 692.95" stroke="#2adcec" stroke-width="1.6" fill="none"/>
<path d="M130.66 688.10L139.66 688.10M135.16 683.60L135.16 692.60M131.98 684.92L138.34 691.29M131.98 691.29L138.34 684.92" stroke="#2adcec" stroke-width="1.6" fill="none"/>
<path d="M151.85 672.14L160.85 672.14M156.35 667.64L156.35 676.64M153.17 668.95L159.53 675.32M153.17 675.32L159.53 668.95" stroke="#2adcec" stroke-width="1.6" fill="none"/>
<path d="M171.96 656.98L180.96 656.98M176.46 652.48L176.46 661.48M173.28 653.80L179.64 660.16M173.28 660.16L179.64 653.80" stroke="#2adcec" stroke-width="1.6" fill="none"/>
<path d="M193.15 641.01L202.15 641.01M197.65 636.51L197.65 645.51M194.47 637.83L200.83 644.19M194.47 644.19L200.83 637.83" stroke="#2adcec" stroke-width="1.6" fill="none"/>
<path d="M213.26 625.85L222.26 625.85M217.76 621.35L217.76 630.35M214.58 622.67L220.94 629.04M214.58 629.04L220.94 622.67" stroke="#2adcec" stroke-width="1.6" fill="none"/>
<path d="M234.45 609.89L243.45 609.89M238.95 605.39L238.95 614.39M235.77 606.70L242.13 613.07M235.77 613.07L242.13 606.70" stroke="#2adcec" stroke-width="1.6" fill="none"/>
<path d="M275.75 578.76L284.75 578.76M280.25 574.26L280.25 583.26M277.07 575.58L283.44 581.94M277.07 581.94L283.44 575.58" stroke="#2adcec" stroke-width="1.6" fill="none"/>
<path d="M317.05 547.64L326.05 547.64M321.55 543.14L321.55 552.14M318.37 544.46L324.74 550.82M318.37 550.82L324.74 544.46" stroke="#2adcec" stroke-width="1.6" fill="none"/>
<path d="M358.95 516.06L367.95 516.06M363.45 511.56L363.45 520.56M360.27 512.88L366.64 519.24M360.27 519.24L366.64 512.88" stroke="#2adcec" stroke-width="1.6" fill="none"/>
<path d="M400.85 490.57L409.85 490.57M405.35 486.07L405.35 495.07M402.17 487.39L408.54 493.76M402.17 493.76L408.54 487.39" stroke="#2adcec" stroke-width="1.6" fill="none"/>
<path d="M418.93 490.57L427.93 490.57M423.43 486.07L423.43 495.07M420.25 487.39L426.61 493.76M420.25 493.76L426.61 487.39" stroke="#2adcec" stroke-width="1.6" fill="none"/>
<path d="M428.51 490.57L437.51 490.57M433.01 486.07L433.01 495.07M429.83 487.39L436.19 493.76M429.83 493.76L436.19 487.39" stroke="#2adcec" stroke-width="1.6" fill="none"/>
<path d="M438.09 490.57L447.09 490.57M442.59 486.07L442.59 495.07M439.40 487.39L445.77 493.76M439.40 493.76L445.77 487.39" stroke="#2adcec" stroke-width="1.6" fill="none"/>
<path d="M59.50 760.51L59.98 755.98L60.46 753.57L61.06 751.34L61.89 748.94L63.09 746.33L64.89 743.36L67.28 740.26L70.27 737.06L73.87 733.68L78.65 729.51L84.64 724.53L91.82 718.67L97.81 713.83L104.27 708.61L113.85 700.90L124.50 692.32L135.16 683.74L156.35 666.68L176.46 650.49L197.65 633.43L217.76 617.24L238.95 600.18L280.25 566.94L321.55 533.69L363.45 499.96L405.35 490.57L423.43 490.57L433.01 490.57L442.59 490.57L462.34 490.57" stroke="#24e424" stroke-width="1.9" fill="none" stroke-linejoin="round"/>
<polygon points="59.50,754.61 60.89,758.60 65.11,758.69 61.74,761.24 62.97,765.28 59.50,762.87 56.03,765.28 57.26,761.24 53.89,758.69 58.11,758.60" stroke="#24e424" stroke-width="0.7" fill="#24e424"/>
<polygon points="104.27,702.71 105.66,706.70 109.88,706.79 106.52,709.34 107.74,713.39 104.27,710.97 100.81,713.39 102.03,709.34 98.66,706.79 102.89,706.70" stroke="#24e424" stroke-width="0.7" fill="#24e424"/>
<polygon points="113.85,695.00 115.24,698.99 119.46,699.07 116.09,701.63 117.32,705.67 113.85,703.26 110.38,705.67 111.61,701.63 108.24,699.07 112.46,698.99" stroke="#24e424" stroke-width="0.7" fill="#24e424"/>
<polygon points="124.50,686.42 125.89,690.41 130.12,690.49 126.75,693.05 127.97,697.09 124.50,694.68 121.04,697.09 122.26,693.05 118.89,690.49 123.12,690.41" stroke="#24e424" stroke-width="0.7" fill="#24e424"/>
<polygon points="135.16,677.84 136.55,681.83 140.77,681.92 137.40,684.47 138.63,688.51 135.16,686.10 131.69,688.51 132.91,684.47 129.55,681.92 133.77,681.83" stroke="#24e424" stroke-width="0.7" fill="#24e424"/>
<polygon points="156.35,660.78 157.74,664.77 161.96,664.86 158.59,667.41 159.82,671.45 156.35,669.04 152.88,671.45 154.10,667.41 150.74,664.86 154.96,664.77" stroke="#24e424" stroke-width="0.7" fill="#24e424"/>
<polygon points="176.46,644.59 177.85,648.58 182.07,648.67 178.71,651.22 179.93,655.26 176.46,652.85 172.99,655.26 174.22,651.22 170.85,648.67 175.07,648.58" stroke="#24e424" stroke-width="0.7" fill="#24e424"/>
<polygon points="197.65,627.53 199.04,631.52 203.26,631.61 199.89,634.16 201.12,638.21 197.65,635.79 194.18,638.21 195.41,634.16 192.04,631.61 196.26,631.52" stroke="#24e424" stroke-width="0.7" fill="#24e424"/>
<polygon points="217.76,611.34 219.15,615.33 223.37,615.42 220.01,617.97 221.23,622.02 217.76,619.60 214.29,622.02 215.52,617.97 212.15,615.42 216.38,615.33" stroke="#24e424" stroke-width="0.7" fill="#24e424"/>
<polygon points="238.95,594.28 240.34,598.28 244.56,598.36 241.20,600.91 242.42,604.96 238.95,602.54 235.48,604.96 236.71,600.91 233.34,598.36 237.56,598.28" stroke="#24e424" stroke-width="0.7" fill="#24e424"/>
<polygon points="280.25,561.04 281.64,565.03 285.86,565.11 282.50,567.67 283.72,571.71 280.25,569.30 276.79,571.71 278.01,567.67 274.64,565.11 278.87,565.03" stroke="#24e424" stroke-width="0.7" fill="#24e424"/>
<polygon points="321.55,527.79 322.94,531.78 327.17,531.87 323.80,534.42 325.02,538.46 321.55,536.05 318.09,538.46 319.31,534.42 315.94,531.87 320.17,531.78" stroke="#24e424" stroke-width="0.7" fill="#24e424"/>
<polygon points="363.45,494.06 364.84,498.05 369.07,498.13 365.70,500.69 366.92,504.73 363.45,502.32 359.99,504.73 361.21,500.69 357.84,498.13 362.07,498.05" stroke="#24e424" stroke-width="0.7" fill="#24e424"/>
<polygon points="405.35,484.67 406.74,488.67 410.97,488.75 407.60,491.30 408.82,495.35 405.35,492.93 401.89,495.35 403.11,491.30 399.74,488.75 403.97,488.67" stroke="#24e424" stroke-width="0.7" fill="#24e424"/>
<polygon points="423.43,484.67 424.82,488.67 429.04,488.75 425.68,491.30 426.90,495.35 423.43,492.93 419.96,495.35 421.19,491.30 417.82,488.75 422.04,488.67" stroke="#24e424" stroke-width="0.7" fill="#24e424"/>
<polygon points="433.01,484.67 434.40,488.67 438.62,488.75 435.25,491.30 436.48,495.35 433.01,492.93 429.54,495.35 430.76,491.30 427.40,488.75 431.62,488.67" stroke="#24e424" stroke-width="0.7" fill="#24e424"/>
<polygon points="442.59,484.67 443.97,488.67 448.20,488.75 444.83,491.30 446.05,495.35 442.59,492.93 439.12,495.35 440.34,491.30 436.97,488.75 441.20,488.67" stroke="#24e424" stroke-width="0.7" fill="#24e424"/>
<path d="M59.50 760.51L59.98 755.76L60.46 753.24L61.06 750.90L61.89 748.39L63.09 745.64L64.89 742.50L67.28 739.22L70.27 735.83L73.87 732.24L78.65 727.81L84.64 722.50L91.82 716.27L97.81 711.11L104.27 705.55L113.85 697.33L124.50 688.19L135.16 679.05L156.35 660.88L176.46 643.63L197.65 625.45L217.76 608.21L238.95 590.03L280.25 554.61L321.55 519.19L363.45 490.57L405.35 490.57L423.43 490.57L433.01 490.57L442.59 490.57L462.34 490.57" stroke="#1a1ab8" stroke-width="1.9" stroke-dasharray="6.5 5.5" fill="none" stroke-linejoin="round"/>
<rect x="56.30" y="757.31" width="6.40" height="6.40" stroke="#1a1ab8" stroke-width="1.7" fill="none"/>
<rect x="101.07" y="702.35" width="6.40" height="6.40" stroke="#1a1ab8" stroke-width="1.7" fill="none"/>
<rect x="110.65" y="694.13" width="6.40" height="6.40" stroke="#1a1ab8" stroke-width="1.7" fill="none"/>
<rect x="121.30" y="684.99" width="6.40" height="6.40" stroke="#1a1ab8" stroke-width="1.7" fill="none"/>
<rect x="131.96" y="675.85" width="6.40" height="6.40" stroke="#1a1ab8" stroke-width="1.7" fill="none"/>
<rect x="153.15" y="657.68" width="6.40" height="6.40" stroke="#1a1ab8" stroke-width="1.7" fill="none"/>
<rect x="173.26" y="640.43" width="6.40" height="6.40" stroke="#1a1ab8" stroke-width="1.7" fill="none"/>
<rect x="194.45" y="622.25" width="6.40" height="6.40" stroke="#1a1ab8" stroke-width="1.7" fill="none"/>
<rect x="214.56" y="605.01" width="6.40" height="6.40" stroke="#1a1ab8" stroke-width="1.7" fill="none"/>
<rect x="235.75" y="586.83" width="6.40" height="6.40" stroke="#1a1ab8" stroke-width="1.7" fill="none"/>
<rect x="277.05" y="551.41" width="6.40" height="6.40" stroke="#1a1ab8" stroke-width="1.7" fill="none"/>
<rect x="318.35" y="515.99" width="6.40" height="6.40" stroke="#1a1ab8" stroke-width="1.7" fill="none"/>
<rect x="360.25" y="487.37" width="6.40" height="6.40" stroke="#1a1ab8" stroke-width="1.7" fill="none"/>
<rect x="402.15" y="487.37" width="6.40" height="6.40" stroke="#1a1ab8" stroke-width="1.7" fill="none"/>
<rect x="420.23" y="487.37" width="6.40" height="6.40" stroke="#1a1ab8" stroke-width="1.7" fill="none"/>
<rect x="429.81" y="487.37" width="6.40" height="6.40" stroke="#1a1ab8" stroke-width="1.7" fill="none"/>
<rect x="439.39" y="487.37" width="6.40" height="6.40" stroke="#1a1ab8" stroke-width="1.7" fill="none"/>
</g>
<rect x="381.1" y="675.2" width="87.7" height="121.5" fill="#fff" stroke="#727272" stroke-width="1.05"/>
<path d="M386.60 688.10H415.10" stroke="#000000" stroke-width="1.9" fill="none"/>
<path d="M397.05 684.30L404.65 691.90M397.05 691.90L404.65 684.30" stroke="#000000" stroke-width="1.7" fill="none"/>
<text x="417.90" y="693.50" class="l"><tspan class="gm" dy="0.4">γ</tspan><tspan dx="1.2" dy="-0.4">=1</tspan></text>
<path d="M386.60 707.38H415.10" stroke="#e01a1e" stroke-width="1.9" stroke-dasharray="6.5 5.5" fill="none"/>
<circle cx="400.85" cy="707.38" r="3.90" stroke="#e01a1e" stroke-width="1.8" fill="none"/>
<text x="417.90" y="712.78" class="l"><tspan class="gm" dy="0.4">γ</tspan><tspan dx="1.2" dy="-0.4">=0.95</tspan></text>
<path d="M386.60 726.66H415.10" stroke="#e426e4" stroke-width="1.9" stroke-dasharray="1.4 1.5" fill="none"/>
<path d="M400.85 721.46L404.45 726.66L400.85 731.86L397.25 726.66Z" stroke="#e426e4" stroke-width="1.7" fill="none"/>
<text x="417.90" y="732.06" class="l"><tspan class="gm" dy="0.4">γ</tspan><tspan dx="1.2" dy="-0.4">=0.9</tspan></text>
<path d="M386.60 745.94H415.10" stroke="#2adcec" stroke-width="1.9" stroke-dasharray="6 2.4 1.5 2.4" fill="none"/>
<path d="M396.35 745.94L405.35 745.94M400.85 741.44L400.85 750.44M397.67 742.76L404.03 749.12M397.67 749.12L404.03 742.76" stroke="#2adcec" stroke-width="1.6" fill="none"/>
<text x="417.90" y="751.34" class="l"><tspan class="gm" dy="0.4">γ</tspan><tspan dx="1.2" dy="-0.4">=0.85</tspan></text>
<path d="M386.60 765.22H415.10" stroke="#24e424" stroke-width="1.9" fill="none"/>
<polygon points="400.85,759.32 402.24,763.31 406.46,763.40 403.09,765.95 404.32,769.99 400.85,767.58 397.38,769.99 398.61,765.95 395.24,763.40 399.46,763.31" stroke="#24e424" stroke-width="0.7" fill="#24e424"/>
<text x="417.90" y="770.62" class="l"><tspan class="gm" dy="0.4">γ</tspan><tspan dx="1.2" dy="-0.4">=0.8</tspan></text>
<path d="M386.60 784.50H415.10" stroke="#1a1ab8" stroke-width="1.9" stroke-dasharray="6.5 5.5" fill="none"/>
<rect x="397.65" y="781.30" width="6.40" height="6.40" stroke="#1a1ab8" stroke-width="1.7" fill="none"/>
<text x="417.90" y="789.90" class="l"><tspan class="gm" dy="0.4">γ</tspan><tspan dx="1.2" dy="-0.4">=0.75</tspan></text>
<text x="15.6" y="440.5" class="p">(b)</text>
<text x="267.8" y="467.80" text-anchor="middle" class="ti" style="font-size:17.7px;word-spacing:-1.3px">C-rate = 10</text>
<text x="60.2" y="471.00" class="t"><tspan class="x" dy="2.6">×</tspan><tspan x="72.4" dy="-2.6">10</tspan><tspan class="s" dy="-9.4" dx="-0.2">4</tspan></text>
<text x="267.0" y="846.20" text-anchor="middle" class="lb">Time (s)</text>
<text transform="translate(19.3 639.75) rotate(-90)" text-anchor="middle" class="lb">Li<tspan class="s" dy="8.3">s</tspan><tspan dy="-8.3"> Concentation (mol m</tspan><tspan class="s" dy="-9.4">-3</tspan><tspan dy="9.4">)</tspan></text>
</g>
<g>
<rect x="59.5" y="904.0" width="419.0" height="325.0" fill="#fff" stroke="#727272" stroke-width="1.05"/>
<path d="M59.50 1229.0v-4.2M59.50 904.0v4.2M119.36 1229.0v-4.2M119.36 904.0v4.2M179.21 1229.0v-4.2M179.21 904.0v4.2M239.07 1229.0v-4.2M239.07 904.0v4.2M298.93 1229.0v-4.2M298.93 904.0v4.2M358.79 1229.0v-4.2M358.79 904.0v4.2M418.64 1229.0v-4.2M418.64 904.0v4.2M478.50 1229.0v-4.2M478.50 904.0v4.2M59.5 1229.00h4.2M478.5 1229.00h-4.2M59.5 1164.00h4.2M478.5 1164.00h-4.2M59.5 1099.00h4.2M478.5 1099.00h-4.2M59.5 1034.00h4.2M478.5 1034.00h-4.2M59.5 969.00h4.2M478.5 969.00h-4.2M59.5 904.00h4.2M478.5 904.00h-4.2" stroke="#727272" stroke-width="1.1" fill="none"/>
<text x="59.50" y="1249.80" text-anchor="middle" class="t">1</text>
<text x="119.36" y="1249.80" text-anchor="middle" class="t">1.2</text>
<text x="179.21" y="1249.80" text-anchor="middle" class="t">1.4</text>
<text x="239.07" y="1249.80" text-anchor="middle" class="t">1.6</text>
<text x="298.93" y="1249.80" text-anchor="middle" class="t">1.8</text>
<text x="358.79" y="1249.80" text-anchor="middle" class="t">2</text>
<text x="418.64" y="1249.80" text-anchor="middle" class="t">2.2</text>
<text x="478.50" y="1249.80" text-anchor="middle" class="t">2.4</text>
<text x="53.90" y="1234.70" text-anchor="end" class="t">2</text>
<text x="53.90" y="1169.70" text-anchor="end" class="t">2.5</text>
<text x="53.90" y="1104.70" text-anchor="end" class="t">3</text>
<text x="53.90" y="1039.70" text-anchor="end" class="t">3.5</text>
<text x="53.90" y="974.70" text-anchor="end" class="t">4</text>
<text x="53.90" y="909.70" text-anchor="end" class="t">4.5</text>
<path d="M60.10 930.20L89.30 940.30L119.00 948.90L149.30 956.50L179.00 963.00L209.30 968.00L239.00 972.60L269.30 976.10L299.00 978.60L314.20 979.80L338.40 981.50L362.60 982.30L386.80 982.70L411.00 982.80L427.00 982.90L432.30 983.50L436.50 984.80L439.90 988.40L443.10 992.30L444.90 1001.30L450.30 1028.30L451.20 1046.30L457.10 1173.80" stroke="#1170b8" stroke-width="2.1" fill="none" stroke-linejoin="round"/>
<text x="16.8" y="867.3" class="p">(c)</text>
<text x="268.2" y="891" text-anchor="middle" class="ti" style="font-size:17.2px;word-spacing:-1px">Open Circuit Voltage of LiCoO<tspan class="s" dy="6.8" style="font-size:14px">2</tspan></text>
<text x="268.8" y="1275.6" text-anchor="middle" class="lb">Concentration of Li (mol/m<tspan class="s" dy="-8">3</tspan><tspan dy="8">)</tspan></text>
<text x="442.0" y="1275.7" class="t"><tspan class="x" dy="2.6">×</tspan><tspan x="454.8" dy="-2.6">10</tspan><tspan class="s" dy="-8.6" dx="-0.4">4</tspan></text>
<text transform="translate(26.8 1066) rotate(-90)" text-anchor="middle" class="lb">Voltage (V)</text>
</g>
</svg></body></html>
